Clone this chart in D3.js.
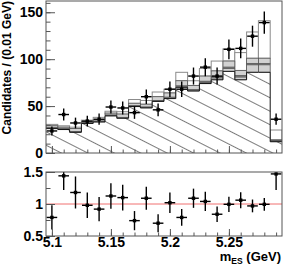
<!doctype html>
<html lang="en">
<head>
<meta charset="utf-8">
<script src="https://cdnjs.cloudflare.com/ajax/libs/d3/7.8.5/d3.min.js"></script>
<style>
  body { margin: 0; background: #fff; }
  svg { display: block; }
  .lbl { font-family: 'Liberation Sans', Arial, sans-serif; font-weight: bold; fill: #000; }
  .axis path { display: none; }
  .axis line { stroke: #555; stroke-width: 1; }
  .axis text { font-family: 'Liberation Sans', Arial, sans-serif; font-weight: bold; font-size: 14px; fill: #000; }
</style>
</head>
<body>
<script>
// bin centres (GeV)
const bins = [5.10, 5.11, 5.12, 5.13, 5.14, 5.15, 5.16, 5.17, 5.18, 5.19,
              5.20, 5.21, 5.22, 5.23, 5.24, 5.25, 5.26, 5.27, 5.28, 5.29];

// stacked components (candidates per bin)
const continuum = [26, 25, 22, 31.5, 33, 39.5, 37, 49.5, 48, 55, 58, 70, 66, 74, 78, 87, 78, 86, 86, 12];
const peakLow   = [0, 0, 0, 0, 0, 0, 0, 0, 0, 0, 0, 0, 0, 1, 2, 3, 3, 8, 8, 0.5];
const peakDark  = [1, 1, 1, 1, 1, 1, 1, 1, 1, 1, 1.5, 1.5, 1.5, 1.5, 1.5, 1.5, 1.5, 1.5, 1.5, 0.5];
const peakHigh  = [2, 1.5, 3, 1, 1.5, 2, 3.5, 2.5, 3, 4, 4.5, 5.5, 4.5, 5.5, 6, 6.5, 5.5, 5.5, 5.5, 1];
const total     = [30.5, 29, 27.5, 35, 38, 44.5, 44, 57, 56, 65, 68, 86, 77, 90, 98, 111, 107, 129, 141, 24.5];

// data points
const dataN   = [23.5, 41, 32, 34, 36, 49, 48, 43, 60, 46, 68, 68, 82, 91.5, 82, 110.5, 111.5, 124.5, 139, 36];
const dataErr = [4.8, 6.4, 5.7, 5.8, 6, 7, 6.9, 6.6, 7.7, 6.8, 8.2, 8.2, 9.1, 9.6, 9.1, 10.5, 10.6, 11.2, 11.8, 6];

// data / fit ratio
const ratio    = [0.79, 1.44, 1.18, 0.98, 0.92, 1.125, 1.10, 0.74, 1.09, 0.70,
                  1.02, 0.79, 1.09, 1.04, 0.84, 0.995, 1.06, 0.97, 0.995, 1.47];
const ratioErr = [0.19, 0.22, 0.25, 0.2, 0.19, 0.2, 0.2, 0.15, 0.18, 0.14,
                  0.16, 0.13, 0.15, 0.15, 0.12, 0.12, 0.125, 0.1, 0.1, 0.25];

const topTicks = [0, 50, 100, 150];
const botTicks = [0.5, 1, 1.5];
const xTicks = [5.1, 5.15, 5.2, 5.25];

const W = 284, H = 266;
const halfBin = 0.005;

const svg = d3.select("body").append("svg").attr("width", W).attr("height", H);

const x = d3.scaleLinear().domain([5.095, 5.295]).range([46, 282]);
const yTop = d3.scaleLinear().domain([0, 162]).range([153, 1]);
const yBot = d3.scaleLinear().domain([0.5, 1.5]).range([236, 172]);

// hatch pattern
const defs = svg.append("defs");
const pat = defs.append("pattern")
  .attr("id", "hatch")
  .attr("patternUnits", "userSpaceOnUse")
  .attr("width", 40).attr("height", 12)
  .attr("patternTransform", "rotate(27)");
pat.append("line").attr("x1", 0).attr("x2", 40).attr("y1", 0.5).attr("y2", 0.5)
  .attr("stroke", "#444").attr("stroke-width", 0.7);

const clipTop = defs.append("clipPath").attr("id", "clipTop");
clipTop.append("rect").attr("x", 46).attr("y", 1).attr("width", 236).attr("height", 152);
const clipBot = defs.append("clipPath").attr("id", "clipBot");
clipBot.append("rect").attr("x", 46).attr("y", 172).attr("width", 236).attr("height", 64);

// build stacked layers
const rows = bins.map((b, i) => {
  const c = continuum[i];
  const a = c + peakLow[i];
  const d = a + peakDark[i];
  const g = d + peakHigh[i];
  return { b, c, a, d, g, t: total[i], n: dataN[i], e: dataErr[i], r: ratio[i], re: ratioErr[i] };
});

const topPanel = svg.append("g").attr("clip-path", "url(#clipTop)");

function boxes(cls, lo, hi, fill, stroke, sw) {
  topPanel.selectAll("rect." + cls)
    .data(rows.filter(r => hi(r) > lo(r)))
    .join("rect")
    .attr("class", cls)
    .attr("x", r => x(r.b - halfBin))
    .attr("width", r => x(r.b + halfBin) - x(r.b - halfBin))
    .attr("y", r => yTop(hi(r)))
    .attr("height", r => yTop(lo(r)) - yTop(hi(r)))
    .attr("fill", fill)
    .attr("stroke", stroke)
    .attr("stroke-width", sw);
}

boxes("sig", r => r.g, r => r.t, "#fff", "#8a8a8a", 1);
boxes("pHigh", r => r.d, r => r.g, "#d2d2d2", "#555", 0.8);
boxes("pLow", r => r.c, r => r.a, "#d2d2d2", "#555", 0.8);
boxes("pDark", r => r.a, r => r.d, "#7a7a7a", "#555", 0.5);

// continuum: hatched step area
const stepPts = rows.flatMap(r => [[r.b - halfBin, r.c], [r.b + halfBin, r.c]]);
topPanel.append("path")
  .datum(stepPts)
  .attr("d", d3.area().x(p => x(p[0])).y0(yTop(0)).y1(p => yTop(p[1])))
  .attr("fill", "#fff");
topPanel.append("path")
  .datum(stepPts)
  .attr("d", d3.area().x(p => x(p[0])).y0(yTop(0)).y1(p => yTop(p[1])))
  .attr("fill", "url(#hatch)");
topPanel.append("path")
  .datum(stepPts)
  .attr("d", d3.line().x(p => x(p[0])).y(p => yTop(p[1])))
  .attr("fill", "none").attr("stroke", "#111").attr("stroke-width", 1);

// data points top
const pts = svg.append("g").attr("clip-path", "url(#clipTop)");
pts.selectAll("line.ev").data(rows).join("line").attr("class", "ev")
  .attr("x1", r => x(r.b)).attr("x2", r => x(r.b))
  .attr("y1", r => yTop(r.n - r.e)).attr("y2", r => yTop(r.n + r.e))
  .attr("stroke", "#000").attr("stroke-width", 1.4);
pts.selectAll("line.eh").data(rows).join("line").attr("class", "eh")
  .attr("x1", r => x(r.b - 0.0045)).attr("x2", r => x(r.b + 0.0045))
  .attr("y1", r => yTop(r.n)).attr("y2", r => yTop(r.n))
  .attr("stroke", "#000").attr("stroke-width", 1.4);
pts.selectAll("rect.m").data(rows).join("rect").attr("class", "m")
  .attr("x", r => x(r.b) - 1.7).attr("y", r => yTop(r.n) - 1.7)
  .attr("width", 3.4).attr("height", 3.4).attr("fill", "#000");

// ratio panel
const bot = svg.append("g").attr("clip-path", "url(#clipBot)");
bot.append("line").attr("x1", 46).attr("x2", 282)
  .attr("y1", yBot(1)).attr("y2", yBot(1))
  .attr("stroke", "#f07070").attr("stroke-width", 1);
bot.selectAll("line.ev").data(rows).join("line").attr("class", "ev")
  .attr("x1", r => x(r.b)).attr("x2", r => x(r.b))
  .attr("y1", r => yBot(r.r - r.re)).attr("y2", r => yBot(r.r + r.re))
  .attr("stroke", "#000").attr("stroke-width", 1.4);
bot.selectAll("line.eh").data(rows).join("line").attr("class", "eh")
  .attr("x1", r => x(r.b - 0.0045)).attr("x2", r => x(r.b + 0.0045))
  .attr("y1", r => yBot(r.r)).attr("y2", r => yBot(r.r))
  .attr("stroke", "#000").attr("stroke-width", 1.4);
bot.selectAll("rect.m").data(rows).join("rect").attr("class", "m")
  .attr("x", r => x(r.b) - 1.7).attr("y", r => yBot(r.r) - 1.7)
  .attr("width", 3.4).attr("height", 3.4).attr("fill", "#000");

// frames
svg.append("rect").attr("x", 46).attr("y", 1).attr("width", 236).attr("height", 152)
  .attr("fill", "none").attr("stroke", "#555").attr("stroke-width", 1);
svg.append("rect").attr("x", 46).attr("y", 172).attr("width", 236).attr("height", 64)
  .attr("fill", "none").attr("stroke", "#555").attr("stroke-width", 1);

// axes: top panel
svg.append("g").attr("class", "axis").attr("transform", "translate(46,0)")
  .call(d3.axisLeft(yTop).tickValues(d3.range(10, 161, 10)).tickSize(-4.5).tickFormat(""));
svg.append("g").attr("class", "axis").attr("transform", "translate(46,0)")
  .call(d3.axisLeft(yTop).tickValues(topTicks).tickSize(-9).tickPadding(3).tickFormat(d3.format("d")));
svg.append("g").attr("class", "axis").attr("transform", "translate(0,153)")
  .call(d3.axisBottom(x).tickValues(bins).tickSize(-3.5).tickFormat(""));
svg.append("g").attr("class", "axis").attr("transform", "translate(0,153)")
  .call(d3.axisBottom(x).tickValues(xTicks).tickSize(-7).tickFormat(""));

// axes: ratio panel
svg.append("g").attr("class", "axis").attr("transform", "translate(46,0)")
  .call(d3.axisLeft(yBot).tickValues([0.75, 1.25]).tickSize(-4.5).tickFormat(""));
svg.append("g").attr("class", "axis").attr("transform", "translate(46,0)")
  .call(d3.axisLeft(yBot).tickValues(botTicks).tickSize(-9).tickPadding(3).tickFormat(d3.format("~g")));
svg.append("g").attr("class", "axis").attr("transform", "translate(0,236)")
  .call(d3.axisBottom(x).tickValues(bins).tickSize(-3.5).tickFormat(""));
svg.append("g").attr("class", "axis").attr("transform", "translate(0,236)")
  .call(d3.axisBottom(x).tickValues(xTicks).tickSize(-7).tickPadding(1).tickFormat(d3.format("~g")));

// axis titles
svg.append("text").attr("class", "lbl")
  .attr("transform", "translate(11,1) rotate(-90)")
  .attr("text-anchor", "end")
  .attr("font-size", 12)
  .text("Candidates / (0.01 GeV)");

const xt = svg.append("text").attr("class", "lbl")
  .attr("x", 281).attr("y", 261).attr("text-anchor", "end").attr("font-size", 13);
xt.append("tspan").text("m");
xt.append("tspan").attr("font-size", 8.5).attr("dy", 3).text("ES");
xt.append("tspan").attr("dy", -3).text(" (GeV)");
</script>
</body>
</html>
